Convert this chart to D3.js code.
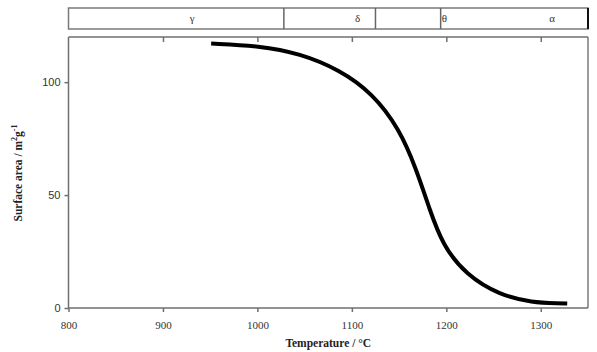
<!DOCTYPE html>
<html>
<head>
<meta charset="utf-8">
<title>surface area vs temperature</title>
<script src="https://d3js.org/d3.v7.min.js"></script>
<style>
  body { margin: 0; background: #fff; }
  .axis path, .axis line { stroke: #6f6f6f; stroke-width: 1.5px; }
  .xaxis text { font-family: "Liberation Serif", serif; font-size: 11px; fill: #333; }
  .yaxis text { font-family: "Liberation Sans", Arial, sans-serif; font-size: 11px; fill: #333; }
  .curve { fill: none; stroke: #000; stroke-width: 4px; stroke-linejoin: round; }
  .phase { font-family: "Liberation Serif", serif; font-size: 11px; fill: #333; }
  .title { font-family: "Liberation Serif", serif; font-weight: bold; font-size: 11.5px; fill: #222; }
</style>
</head>
<body>
<script>
// curve: temperature (°C) and surface area (m2/g)
let temps = [951, 1002, 1045, 1087, 1122, 1150, 1168, 1182, 1196, 1221, 1256, 1291, 1320, 1328];
let areas = [117.1, 116.1, 112.7, 105.5, 95, 79.5, 61.8, 44, 27.9, 14.6, 5.8, 2.4, 2.1, 2.0];

let xTicks = [800, 900, 1000, 1100, 1200, 1300];
let yTicks = [0, 50, 100];

// phase strip above the plot
let phaseEdges = [800, 1028, 1125, 1194, 1350];
let phaseNames = ["γ", "δ", "θ", "α"];
let phaseLabelT = [931, 1106, 1198, 1312];

let width = 597, height = 352;
let plotLeft = 68.5, plotRight = 588, plotTop = 37, plotBottom = 308;

let svg = d3.select("body").append("svg")
    .attr("width", width)
    .attr("height", height);

let x = d3.scaleLinear().domain([800, 1350]).range([plotLeft, plotRight]);
let y = d3.scaleLinear().domain([0, 120]).range([plotBottom, plotTop]);

// frame right and top
svg.append("line").attr("x1", plotRight).attr("x2", plotRight).attr("y1", plotTop).attr("y2", plotBottom)
    .attr("stroke", "#7a7a7a").attr("stroke-width", 1.5);

let topAxis = d3.axisTop(x).tickValues(xTicks.slice(1)).tickSize(-5).tickFormat("");
svg.append("g").attr("class", "axis")
    .attr("transform", "translate(0," + plotTop + ")")
    .call(topAxis)
    .call(g => g.select(".domain").attr("d", "M" + plotLeft + ",0H" + plotRight));

let xAxis = d3.axisBottom(x).tickValues(xTicks).tickSize(4).tickPadding(9).tickFormat(d3.format("d"));
svg.append("g").attr("class", "axis xaxis")
    .attr("transform", "translate(0," + plotBottom + ")")
    .call(xAxis)
    .call(g => g.select(".domain").attr("d", "M" + plotLeft + ",0H" + plotRight));

let yAxis = d3.axisLeft(y).tickValues(yTicks).tickSize(4).tickPadding(4);
svg.append("g").attr("class", "axis yaxis")
    .attr("transform", "translate(" + plotLeft + ",0)")
    .call(yAxis)
    .call(g => g.select(".domain").attr("d", "M0," + plotTop + "V" + plotBottom));

// the curve
let line = d3.line()
    .x((d, i) => x(temps[i]))
    .y(d => y(d))
    .curve(d3.curveBasis);

svg.append("path")
    .attr("class", "curve")
    .attr("d", line(areas));

// phase strip
let stripTop = 8, stripBottom = 29;
svg.append("rect")
    .attr("x", x(phaseEdges[0]))
    .attr("y", stripTop)
    .attr("width", x(phaseEdges[phaseEdges.length - 1]) - x(phaseEdges[0]))
    .attr("height", stripBottom - stripTop)
    .attr("fill", "none")
    .attr("stroke", "#7a7a7a")
    .attr("stroke-width", 1.5);

svg.selectAll("line.divider")
    .data(phaseEdges.slice(1, -1))
    .join("line")
    .attr("class", "divider")
    .attr("x1", d => x(d)).attr("x2", d => x(d))
    .attr("y1", stripTop).attr("y2", stripBottom)
    .attr("stroke", "#666").attr("stroke-width", 1.5);

svg.append("line")
    .attr("x1", plotRight).attr("x2", plotRight)
    .attr("y1", stripTop).attr("y2", stripBottom)
    .attr("stroke", "#111").attr("stroke-width", 2);

svg.selectAll("text.phase")
    .data(phaseNames)
    .join("text")
    .attr("class", "phase")
    .attr("x", (d, i) => x(phaseLabelT[i]))
    .attr("y", 22)
    .attr("text-anchor", "middle")
    .text(d => d);

// axis titles
let yTitle = svg.append("text")
    .attr("class", "title")
    .attr("transform", "translate(22," + 173 + ") rotate(-90)")
    .attr("text-anchor", "middle");
yTitle.append("tspan").text("Surface area / m");
yTitle.append("tspan").attr("dy", -5).attr("font-size", "8px").text("2");
yTitle.append("tspan").attr("dy", 5).text("g");
yTitle.append("tspan").attr("dy", -5).attr("font-size", "8px").text("-1");

svg.append("text")
    .attr("class", "title")
    .attr("x", (plotLeft + plotRight) / 2)
    .attr("y", 347)
    .attr("text-anchor", "middle")
    .attr("font-size", "11.5px")
    .text("Temperature / °C");
</script>
</body>
</html>
